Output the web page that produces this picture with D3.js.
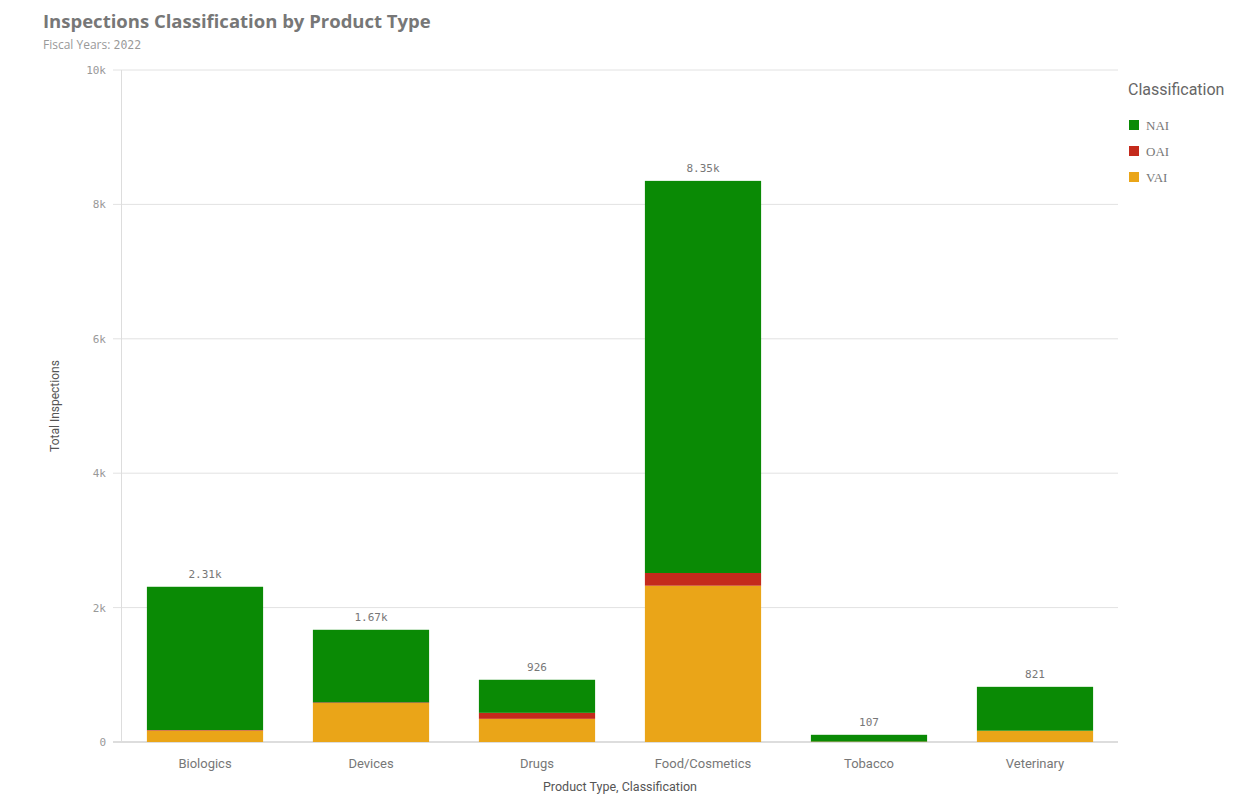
<!DOCTYPE html>
<html>
<head>
    <meta charset="utf-8">
    <title>Inspections Classification by Product Type</title>
    <script src="https://cdn.jsdelivr.net/npm/d3@7"></script>
    <style>
        body { margin: 0; background: #fff; }
    </style>
</head>
<body>
<script>
        var categories = ["Biologics", "Devices", "Drugs", "Food/Cosmetics", "Tobacco", "Veterinary"];
        var classes = ["NAI", "OAI", "VAI"];
        // stacked bottom-up: VAI, OAI, NAI
        var vai = [170, 580, 345, 2326, 5, 168];
        var oai = [8, 10, 89, 189, 2, 0];
        var nai = [2132, 1080, 492, 5835, 100, 653];
        var totalLabels = ["2.31k", "1.67k", "926", "8.35k", "107", "821"];
        var yTicks = [0, 2000, 4000, 6000, 8000, 10000];
        var yTickLabels = ["0", "2k", "4k", "6k", "8k", "10k"];
        var colors = { NAI: "#0a8a05", OAI: "#c42a1c", VAI: "#eaa518" };

        var rows = categories.map(function (c, i) {
            return { cat: c, VAI: vai[i], OAI: oai[i], NAI: nai[i], label: totalLabels[i] };
        });

        var svg = d3.select("body").append("svg")
            .attr("width", 1252)
            .attr("height", 795);

        var x = d3.scaleBand()
            .domain(categories)
            .range([122, 1118])
            .paddingInner(0.3)
            .paddingOuter(0.15);

        var y = d3.scaleLinear()
            .domain([0, 10000])
            .range([742, 70]);

        // title
        svg.append("text")
            .attr("x", 43).attr("y", 28)
            .attr("font-family", "Open Sans, sans-serif")
            .attr("font-weight", "bold")
            .attr("font-size", 18.5)
            .attr("fill", "#777")
            .text("Inspections Classification by Product Type");

        var sub = svg.append("text")
            .attr("x", 43).attr("y", 49)
            .attr("font-family", "Open Sans, sans-serif")
            .attr("font-size", 12)
            .attr("fill", "#999");
        sub.append("tspan").text("Fiscal Years: ");
        sub.append("tspan")
            .attr("font-family", "DejaVu Sans Mono, monospace")
            .attr("font-size", 11.5)
            .text("2022");

        // grid
        svg.append("g")
            .selectAll("line")
            .data(yTicks)
            .join("line")
            .attr("x1", 113).attr("x2", 1118)
            .attr("y1", function (d) { return y(d); })
            .attr("y2", function (d) { return y(d); })
            .attr("stroke", function (d) { return d === 0 ? "#bbb" : "#e2e2e2"; })
            .attr("stroke-width", 1);

        svg.append("line")
            .attr("x1", 121.5).attr("x2", 121.5)
            .attr("y1", 70).attr("y2", 742)
            .attr("stroke", "#ddd");

        svg.append("g")
            .selectAll("text")
            .data(yTicks)
            .join("text")
            .attr("x", 106)
            .attr("y", function (d) { return y(d) + 4; })
            .attr("text-anchor", "end")
            .attr("font-family", "DejaVu Sans Mono, monospace")
            .attr("font-size", 11)
            .attr("fill", "#999")
            .text(function (d, i) { return yTickLabels[i]; });

        svg.append("text")
            .attr("transform", "translate(59,406) rotate(-90)")
            .attr("text-anchor", "middle")
            .attr("font-family", "Roboto, sans-serif")
            .attr("font-size", 12)
            .attr("fill", "#555")
            .text("Total Inspections");

        // bars
        var stack = d3.stack().keys(["VAI", "OAI", "NAI"]);
        var series = stack(rows);

        svg.append("g")
            .selectAll("g")
            .data(series)
            .join("g")
            .attr("fill", function (s) { return colors[s.key]; })
            .selectAll("rect")
            .data(function (s) { return s; })
            .join("rect")
            .attr("x", function (d) { return x(d.data.cat); })
            .attr("width", x.bandwidth())
            .attr("y", function (d) { return y(d[1]); })
            .attr("height", function (d) { return y(d[0]) - y(d[1]); });

        // total labels
        svg.append("g")
            .selectAll("text")
            .data(rows)
            .join("text")
            .attr("x", function (d) { return x(d.cat) + x.bandwidth() / 2; })
            .attr("y", function (d) { return y(d.VAI + d.OAI + d.NAI) - 9; })
            .attr("text-anchor", "middle")
            .attr("font-family", "DejaVu Sans Mono, monospace")
            .attr("font-size", 11)
            .attr("fill", "#777")
            .text(function (d) { return d.label; });

        // category labels
        svg.append("g")
            .selectAll("text")
            .data(categories)
            .join("text")
            .attr("x", function (d) { return x(d) + x.bandwidth() / 2; })
            .attr("y", 768)
            .attr("text-anchor", "middle")
            .attr("font-family", "Roboto, sans-serif")
            .attr("font-size", 13)
            .attr("fill", "#777")
            .text(function (d) { return d; });

        svg.append("text")
            .attr("x", 620).attr("y", 791)
            .attr("text-anchor", "middle")
            .attr("font-family", "Roboto, sans-serif")
            .attr("font-size", 12.5)
            .attr("fill", "#555")
            .text("Product Type, Classification");

        // legend
        svg.append("text")
            .attr("x", 1128).attr("y", 95)
            .attr("font-family", "Roboto, sans-serif")
            .attr("font-size", 16)
            .attr("fill", "#666")
            .text("Classification");

        var legend = svg.append("g")
            .selectAll("g")
            .data(classes)
            .join("g")
            .attr("transform", function (d, i) { return "translate(1129," + (120 + i * 26) + ")"; });

        legend.append("rect")
            .attr("width", 10).attr("height", 10)
            .attr("fill", function (d) { return colors[d]; });

        legend.append("text")
            .attr("x", 17).attr("y", 9.5)
            .attr("font-family", "Liberation Serif, serif")
            .attr("font-size", 13)
            .attr("fill", "#777")
            .text(function (d) { return d; });
    </script>
</body>
</html>
